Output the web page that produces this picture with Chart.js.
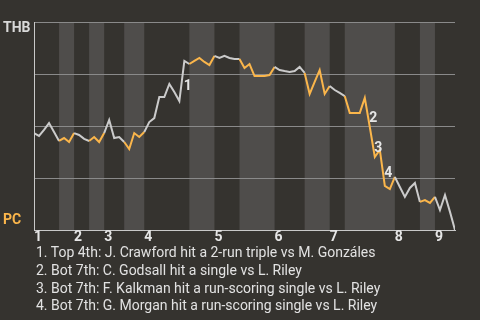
<!DOCTYPE html>
<html lang="en">
<head>
    <meta charset="UTF-8">
    <title>Win Probability - THB vs PC</title>
    <style>
        body {
            background-color: #35332f;
            margin: 0;
            padding: 0;
            font-family: Roboto, sans-serif;
        }
        .wrap {
            position: relative;
            width: 480px;
            height: 320px;
        }
        #wpChart {
            position: absolute;
            left: 0;
            top: 0;
        }
        .notes {
            position: absolute;
            left: 36px;
            top: 244px;
            color: #e2e2e2;
            font-size: 14px;
            line-height: 17.8px;
            white-space: nowrap;
        }
    </style>
    <script src="https://cdn.jsdelivr.net/npm/chart.js"></script>
</head>
<body>
    <div class="wrap">
        <canvas id="wpChart" width="480" height="320"></canvas>
        <div class="notes" id="notes"></div>
    </div>

    <script>
        // THB win probability (%) after each plate appearance
        var winProb = [
            46.6, 45.2, 48.1, 51.4, 47.1, 42.8, 44.2, 42.3, 46.6, 45.7,
            43.8, 42.8, 44.7, 42.3, 46.6, 52.9, 44.2, 44.7, 42.3, 38.9,
            46.6, 44.7, 47.1, 51.9, 53.8, 63.9, 63.9, 70.2, 66.3, 62.0,
            81.3, 79.8, 81.3, 82.7, 80.8, 79.3, 83.7, 82.7, 83.7, 82.7,
            82.2, 82.2, 77.9, 79.8, 74.0, 74.0, 74.0, 74.5, 78.4, 76.9,
            76.4, 76.0, 76.4, 78.4, 75.5, 65.4, 71.2, 76.9, 65.4, 69.2,
            67.3, 65.9, 64.4, 56.3, 56.3, 56.3, 63.5, 49.5, 35.1, 38.5,
            21.2, 19.7, 25.5, 20.7, 15.9, 20.2, 22.6, 13.5, 14.4, 13.0,
            15.9, 9.6, 16.8, 8.7, 0
        ];
        // plate appearance count at the end of each half inning (top 1st .. top 9th)
        var halfInningEnds = [0, 5, 8, 11, 14, 18, 22, 31, 36, 41, 48, 54, 59, 62, 72, 77, 80, 84];
        var inningLabels = ['1', '2', '3', '4', '5', '6', '7', '8', '9'];
        var yGridValues = [0, 25, 50, 75, 100];
        var teamTop = 'THB';
        var teamBottom = 'PC';
        // plate appearance index of each noted play
        var eventIdx = [30, 67, 68, 70];
        var notes = [
            '1. Top 4th: J. Crawford hit a 2-run triple vs M. Gonzáles',
            '2. Bot 7th: C. Godsall hit a single vs L. Riley',
            '3. Bot 7th: F. Kalkman hit a run-scoring single vs L. Riley',
            '4. Bot 7th: G. Morgan hit a run-scoring single vs L. Riley'
        ];

        var GRAY = '#cbcbcb';
        var ORANGE = '#fbb64b';
        var BAND = '#4f4d4b';

        document.getElementById('notes').innerHTML = notes.map(function (n) {
            return '<div>' + n + '</div>';
        }).join('');

        var inningStarts = halfInningEnds.filter(function (v, i) { return i % 2 === 0; });

        // which half inning a plate appearance belongs to (odd = bottom half)
        function halfOf(pa) {
            for (var k = 0; k < halfInningEnds.length - 1; k++) {
                if (pa > halfInningEnds[k] && pa <= halfInningEnds[k + 1]) return k;
            }
            return 0;
        }

        var points = winProb.map(function (v, i) { return { x: i, y: v }; });

        var bandsPlugin = {
            id: 'bands',
            beforeDraw: function (chart) {
                var ctx = chart.ctx, area = chart.chartArea, xs = chart.scales.x;
                ctx.save();
                ctx.fillStyle = BAND;
                for (var k = 1; k < halfInningEnds.length - 1; k += 2) {
                    var x0 = xs.getPixelForValue(halfInningEnds[k]);
                    var x1 = xs.getPixelForValue(halfInningEnds[k + 1]);
                    ctx.fillRect(x0, area.top, x1 - x0, area.bottom - area.top);
                }
                ctx.restore();
            },
            afterDraw: function (chart) {
                var ctx = chart.ctx, area = chart.chartArea;
                var xs = chart.scales.x, ys = chart.scales.y;
                ctx.save();
                ctx.font = 'bold 14px Roboto, sans-serif';
                ctx.textBaseline = 'middle';
                ctx.textAlign = 'left';
                ctx.fillStyle = '#d9d9d9';
                ctx.fillText(teamTop, 3, area.top + 6);
                ctx.fillStyle = ORANGE;
                ctx.fillText(teamBottom, 3, area.bottom - 10);

                // event numbers next to the swing they refer to
                ctx.textAlign = 'center';
                ctx.fillStyle = '#e6e6e6';
                eventIdx.forEach(function (idx, n) {
                    var mx = (xs.getPixelForValue(idx - 1) + xs.getPixelForValue(idx)) / 2;
                    var my = (ys.getPixelForValue(winProb[idx - 1]) + ys.getPixelForValue(winProb[idx])) / 2;
                    ctx.fillText(String(n + 1), mx + 6, my + 6);
                });
                ctx.restore();
            }
        };

        var ctxWp = document.getElementById('wpChart').getContext('2d');
        var wpChart = new Chart(ctxWp, {
            type: 'line',
            data: {
                datasets: [{
                    data: points,
                    borderColor: GRAY,
                    borderWidth: 2,
                    pointRadius: 0,
                    tension: 0,
                    segment: {
                        borderColor: function (c) {
                            return halfOf(c.p1.parsed.x) % 2 === 1 ? ORANGE : GRAY;
                        }
                    }
                }]
            },
            options: {
                responsive: false,
                animation: false,
                layout: { padding: { top: 22, right: 25, left: 0, bottom: 0 } },
                plugins: {
                    legend: { display: false },
                    tooltip: { enabled: false }
                },
                scales: {
                    x: {
                        type: 'linear',
                        min: 0,
                        max: halfInningEnds[halfInningEnds.length - 1],
                        afterBuildTicks: function (scale) {
                            scale.ticks = inningStarts.map(function (v) { return { value: v }; });
                        },
                        afterFit: function (scale) { scale.height = 90; },
                        grid: { display: false, drawTicks: false },
                        border: { display: true, color: '#c9c9c9', width: 1 },
                        ticks: {
                            autoSkip: false,
                            maxRotation: 0,
                            align: 'start',
                            padding: 0,
                            color: '#e6e6e6',
                            font: { family: 'Roboto', size: 14, weight: 'bold', lineHeight: 1 },
                            callback: function (value) {
                                return inningLabels[inningStarts.indexOf(value)];
                            }
                        }
                    },
                    y: {
                        min: 0,
                        max: 100,
                        afterBuildTicks: function (scale) {
                            scale.ticks = yGridValues.map(function (v) { return { value: v }; });
                        },
                        afterFit: function (scale) { scale.width = 34; },
                        grid: {
                            drawTicks: false,
                            color: function (c) {
                                return c.tick && c.tick.value === 0 ? 'rgba(0,0,0,0)' : '#8a8a8a';
                            },
                            lineWidth: 1
                        },
                        border: { display: true, color: '#c9c9c9', width: 1 },
                        ticks: { display: false }
                    }
                }
            },
            plugins: [bandsPlugin]
        });
    </script>
</body>
</html>
